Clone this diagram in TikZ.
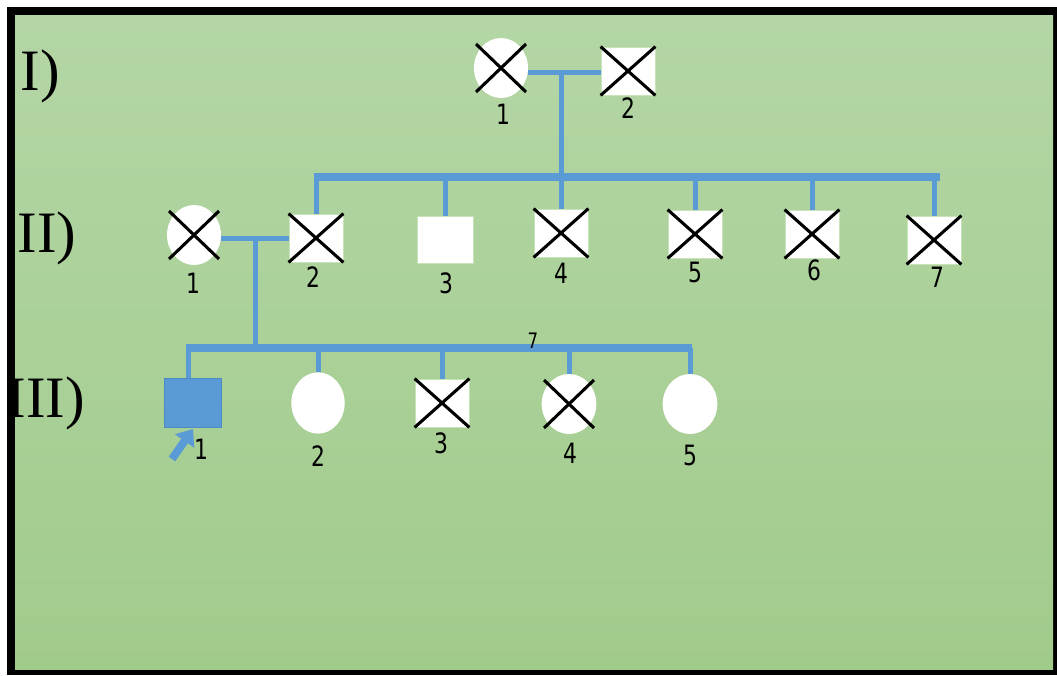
\documentclass[tikz,border=0pt]{standalone}
\usepackage{fontspec}
\setmainfont{Liberation Serif}
\newfontfamily\numfont[FakeStretch=0.78]{DejaVu Sans}
\usetikzlibrary{shapes.geometric,arrows.meta}
\definecolor{pblue}{HTML}{5B9BD5}
\definecolor{pbluedark}{HTML}{4F89C2}
\definecolor{bgtop}{HTML}{B4D6A6}
\definecolor{bgbot}{HTML}{A1CB8B}
\definecolor{edge}{HTML}{C8E3B8}
\begin{document}
\begin{tikzpicture}[x=0.75pt,y=-0.75pt,
  female/.style={ellipse, fill=white, inner sep=0pt, minimum width=40.5pt, minimum height=45pt},
  male/.style={rectangle, fill=white, draw=edge, line width=0.6pt, inner sep=0pt, minimum width=40.5pt, minimum height=36pt},
  proband/.style={rectangle, fill=pblue, draw=pbluedark, line width=0.6pt, inner sep=0pt, minimum width=42.5pt, minimum height=36.5pt},
  conn/.style={pblue, line width=3.75pt},
  sibline/.style={pblue, line width=5.5pt},
  xline/.style={black, line width=2.3pt},
  num/.style={inner sep=0pt, font=\numfont\fontsize{21}{24}\selectfont},
  smallnum/.style={inner sep=0pt, font=\numfont\fontsize{16}{18}\selectfont},
  gen/.style={inner sep=0pt, font=\fontsize{44}{50}\selectfont}]
% background and frame
\fill[white] (0,0) rectangle (1057,675);
\fill[black] (7,7) rectangle (1057,675);
\shade[top color=bgtop, bottom color=bgbot] (15,15) rectangle (1053,669);

% generation labels
\node[gen] (gI) at (40,76) {I)};
\node[gen] (gII) at (47,238) {II)};
\node[gen] (gIII) at (46,403) {III)};

% coordinates for connector junctions
\coordinate (m1) at (561,72);
\coordinate (s1) at (561,177);
\coordinate (sL) at (316,177);
\coordinate (sR) at (938,177);
\coordinate (m2) at (255,238);
\coordinate (t2) at (255,348);
\coordinate (tL) at (188,348);
\coordinate (tR) at (690,348);

% Generation I
\node[female] (I1) at (501,68) {};
\node[male] (I2) at (628,71) {};

% Generation II
\node[female] (II1) at (194,235) {};
\node[male] (II2) at (316,238) {};
\node[male, minimum width=42pt, minimum height=35pt] (II3) at (445,240) {};
\node[male] (II4) at (561,233) {};
\node[male] (II5) at (695,234) {};
\node[male] (II6) at (812,234) {};
\node[male] (II7) at (934,240) {};

% Generation III
\node[proband] (III1) at (193,403) {};
\node[female, minimum width=40pt, minimum height=46pt] (III2) at (318,403) {};
\node[male] (III3) at (442,403) {};
\node[female, minimum width=41pt] (III4) at (569,404) {};
\node[female, minimum width=41pt] (III5) at (690,404) {};

% connectors generation I
\draw[conn] (I1.east |- m1) -- (I2.west |- m1);
\draw[conn] (m1) -- (s1);
\draw[sibline] ([xshift=-1.4pt]sL) -- ([xshift=1.4pt]sR);
\draw[conn] (sL) -- (II2.north);
\draw[conn] (II3.north |- sL) -- (II3.north);
\draw[conn] (II4.north |- sL) -- (II4.north);
\draw[conn] (II5.north |- sL) -- (II5.north);
\draw[conn] (II6.north |- sL) -- (II6.north);
\draw[conn] (II7.north |- sL) -- (II7.north);

% connectors generation II
\draw[conn] (II1.east |- m2) -- (II2.west |- m2);
\draw[conn] (m2) -- (t2);
\draw[pblue, line width=6.5pt] ([xshift=-1.4pt]tL) -- ([xshift=1.4pt]tR);
\draw[conn] (tL) -- (tL |- III1.north);
\draw[conn] (III2.north |- tL) -- (III2.north);
\draw[conn] (III3.north |- tL) -- (III3.north);
\draw[conn] (III4.north |- tL) -- (III4.north);
\draw[conn] (III5.north |- tL) -- (III5.north);
\node[smallnum] (seven) at (533,341) {7};

% crosses (deceased)
\foreach \n in {I1,II1,III4}{
  \draw[xline] ([shift={(-25,-24)}]\n.center) -- ([shift={(25,24)}]\n.center);
  \draw[xline] ([shift={(-25,24)}]\n.center) -- ([shift={(25,-24)}]\n.center);
}
\foreach \n in {I2,II2,II4,II5,II6,II7,III3}{
  \draw[xline] (\n.north west) -- (\n.south east);
  \draw[xline] (\n.south west) -- (\n.north east);
}

% proband arrow
\coordinate (arT) at (172,459);
\coordinate (arH) at (193,429);
\draw[pblue, line width=6pt, -{Triangle[length=11pt,width=17pt]}] (arT) -- (arH);

% numbers
\node[num] (nI1) at (503,114) {1};
\node[num] (nI2) at (628,108) {2};
\node[num] (nII1) at (193,283) {1};
\node[num] (nII2) at (313,277) {2};
\node[num] (nII3) at (446,283) {3};
\node[num] (nII4) at (561,273) {4};
\node[num] (nII5) at (695,272) {5};
\node[num] (nII6) at (814,270) {6};
\node[num] (nII7) at (937,277) {7};
\node[num] (nIII1) at (201,449) {1};
\node[num] (nIII2) at (318,456) {2};
\node[num] (nIII3) at (441,443) {3};
\node[num] (nIII4) at (570,453) {4};
\node[num] (nIII5) at (690,455) {5};
\end{tikzpicture}
\end{document}
